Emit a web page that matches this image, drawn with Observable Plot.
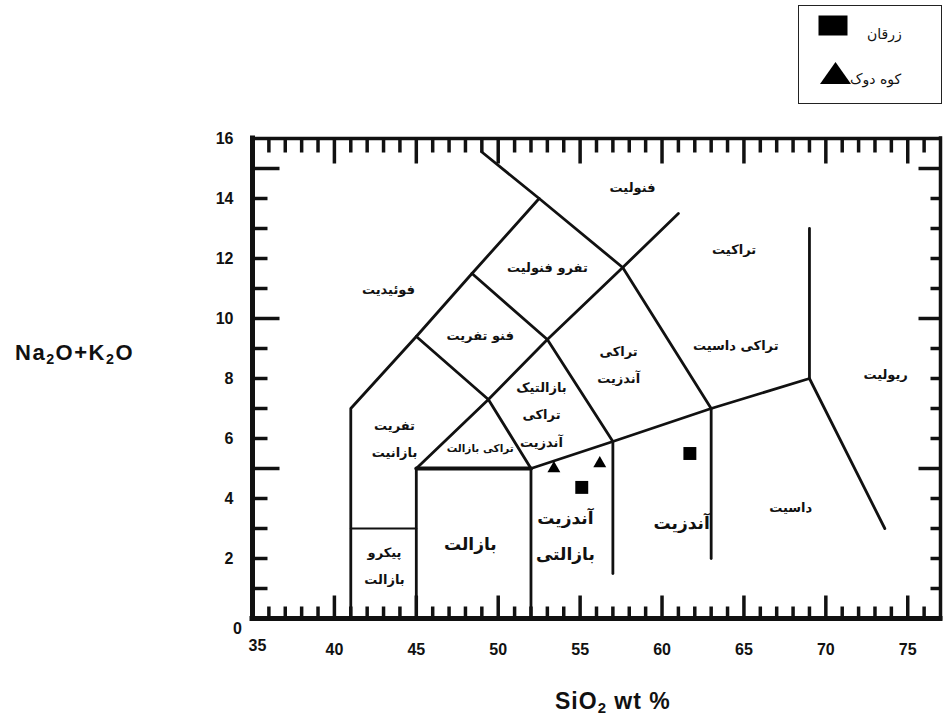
<!DOCTYPE html>
<html>
<head>
<meta charset="utf-8">
<script src="https://cdn.jsdelivr.net/npm/d3@7"></script>
<script src="https://cdn.jsdelivr.net/npm/@observablehq/plot@0.6"></script>
<style>
  body { margin: 0; background: #ffffff; }
  #wrap { position: relative; width: 946px; height: 722px; overflow: hidden; background: #ffffff; }
  #chart { position: absolute; left: 0; top: 0; }
  .axtitle { position: absolute; font-family: "Liberation Sans", Arial, sans-serif; font-weight: bold; color: #111; line-height: 1; white-space: nowrap; }
  .axtitle sub { font-size: 0.65em; vertical-align: -0.3em; line-height: 0; }
  #ytitle { left: 15px; top: 342px; font-size: 22px; letter-spacing: 1.5px; }
  #xtitle { left: 555px; top: 690px; font-size: 23px; letter-spacing: 1px; }
  #legend { position: absolute; left: 798px; top: 5px; width: 144px; height: 99px; border: 1.5px solid #222; box-sizing: border-box; background: #fff; }
  #legend .item { position: absolute; }
  #legend .lbl { position: absolute; font-family: "DejaVu Sans", sans-serif; font-size: 14px; color: #111; white-space: nowrap; line-height: 1; direction: rtl; }
</style>
</head>
<body>
<div id="wrap">
  <div id="chart"></div>
  <div id="ytitle" class="axtitle">Na<sub>2</sub>O+K<sub>2</sub>O</div>
  <div id="xtitle" class="axtitle">SiO<sub>2</sub> wt %</div>
  <div id="legend"></div>
</div>
<script>
// ---------- data ----------
const xDomain = [35, 77];
const yDomain = [0, 16];
const xTickLabels = [35, 40, 45, 50, 55, 60, 65, 70, 75];
const yTickLabels = [0, 2, 4, 6, 8, 10, 12, 14, 16];

// TAS field boundaries: [SiO2, Na2O+K2O]
const foiditeEdge = [[41, 0], [41, 7], [45, 9.4], [48.4, 11.5], [52.5, 14]];
const phonoliteEdge = [[49, 15.55], [52.5, 14], [57.6, 11.7], [63, 7]];
const trachyteEdge = [[57.6, 11.7], [61, 13.5]];
const phonotephriteBase = [[45, 9.4], [49.4, 7.3], [52, 5]];
const tephriphonoliteBase = [[48.4, 11.5], [53, 9.3], [57.6, 11.7]];
const trachyandesiteEdge = [[53, 9.3], [57, 5.9]];
const trachybasaltEdge = [[53, 9.3], [49.4, 7.3], [45, 5], [45, 0]];
const basaltTop = [[45, 5], [52, 5]];
const basaltRight = [[52, 5], [52, 0]];
const subalkalineTop = [[52, 5], [57, 5.9], [63, 7], [69, 8], [73.6, 3]];
const andesiteLeft = [[57, 5.9], [57, 1.5]];
const daciteLeft = [[63, 7], [63, 2]];
const rhyoliteEdge = [[69, 8], [69, 13]];
const picrobasaltTop = [[41, 3], [45, 3]];

const mainBoundaries = [foiditeEdge, phonoliteEdge, trachyteEdge, phonotephriteBase,
  tephriphonoliteBase, trachyandesiteEdge, trachybasaltEdge, basaltRight,
  subalkalineTop, andesiteLeft, daciteLeft, rhyoliteEdge];

// rock-field names
const rockNames = ["فوئیدیت", "فنولیت", "تفرو فنولیت", "فنو تفریت", "تراکیت",
  "تراکی\nآندزیت", "تراکی داسیت", "ریولیت", "بازالتیک\nتراکی\nآندزیت",
  "تفریت\nبازانیت", "داسیت", "پیکرو\nبازالت"];
const rockSiO2 = [43.3, 58.2, 53.0, 48.9, 64.4, 57.35, 64.5, 73.65, 52.64, 43.67, 67.85, 43.06];
const rockAlk = [11.1, 14.5, 11.83, 9.57, 12.43, 8.6, 9.23, 8.27, 6.93, 6.13, 3.83, 1.9];

const bigRockNames = ["آندزیت\nبازالتی", "آندزیت", "بازالت"];
const bigRockSiO2 = [54.1, 61.2, 48.3];
const bigRockAlk = [2.93, 3.37, 2.67];

const smallRockNames = ["تراکی بازالت"];
const smallRockSiO2 = [48.9];
const smallRockAlk = [5.67];

// samples
const seriesNames = ["زرقان", "کوه دوک"];
const zarghanSiO2 = [61.7, 55.1];
const zarghanAlk = [5.5, 4.37];
const kuhDukSiO2 = [53.4, 56.2];
const kuhDukAlk = [5.0, 5.17];

// ---------- build ----------
const toRows = (lines) => lines.flatMap((pts, id) => pts.map(([x, y]) => ({id, x, y})));
const boundaryRows = toRows(mainBoundaries);
const rows = (names, xs, ys) => names.map((t, i) => ({t, x: xs[i], y: ys[i]}));
const zarghan = zarghanSiO2.map((x, i) => ({x, y: zarghanAlk[i]}));
const kuhDuk = kuhDukSiO2.map((x, i) => ({x, y: kuhDukAlk[i]}));

const xMinor = d3.range(xDomain[0] + 1, xDomain[1]).filter(v => v % 5 !== 0);
const xMajor = d3.range(xDomain[0] + 1, xDomain[1]).filter(v => v % 5 === 0);
const yMinor = d3.range(yDomain[0] + 1, yDomain[1]).filter(v => v % 5 !== 0);
const yMajor = d3.range(yDomain[0] + 1, yDomain[1]).filter(v => v % 5 === 0);

const tickShape = {draw(ctx, l) { ctx.moveTo(0, 0); ctx.lineTo(0, -l); }};
const tk = {shape: tickShape, anchor: "start", stroke: "#111", strokeWidth: 3.5, strokeLinecap: "butt"};
const numFont = {fontFamily: "Liberation Sans, Arial, sans-serif", fontWeight: "bold", fill: "#111"};
const faFont = {fontFamily: "DejaVu Sans, sans-serif", fontWeight: "bold", fill: "#111"};

const chart = Plot.plot({
  width: 946,
  height: 722,
  marginLeft: 252,
  marginRight: 6,
  marginTop: 138,
  marginBottom: 104,
  x: {domain: xDomain, axis: null},
  y: {domain: yDomain, axis: null},
  style: {background: "transparent", overflow: "visible"},
  marks: [
    // field boundaries
    Plot.line(boundaryRows, {x: "x", y: "y", z: "id", stroke: "#111", strokeWidth: 2.8, strokeLinejoin: "round"}),
    Plot.line(basaltTop.map(([x, y]) => ({x, y})), {x: "x", y: "y", stroke: "#111", strokeWidth: 4}),
    Plot.line(picrobasaltTop.map(([x, y]) => ({x, y})), {x: "x", y: "y", stroke: "#111", strokeWidth: 2}),
    // frame
    Plot.ruleX([xDomain[0]], {stroke: "#111", strokeWidth: 5, strokeLinecap: "square"}),
    Plot.ruleY([yDomain[0]], {stroke: "#111", strokeWidth: 5, strokeLinecap: "square"}),
    Plot.ruleY([yDomain[1]], {stroke: "#111", strokeWidth: 3.5, strokeLinecap: "square"}),
    Plot.ruleX([xDomain[1]], {stroke: "#111", strokeWidth: 3.5, strokeLinecap: "square"}),
    // inward ticks
    Plot.vector(xMinor, {x: d => d, y: yDomain[0], rotate: 0, length: 12, ...tk}),
    Plot.vector(xMajor, {x: d => d, y: yDomain[0], rotate: 0, length: 23, ...tk}),
    Plot.vector(xMinor, {x: d => d, y: yDomain[1], rotate: 180, length: 14, ...tk}),
    Plot.vector(xMajor, {x: d => d, y: yDomain[1], rotate: 180, length: 25, ...tk}),
    Plot.vector(yMinor, {x: xDomain[0], y: d => d, rotate: 90, length: 15, ...tk}),
    Plot.vector(yMajor, {x: xDomain[0], y: d => d, rotate: 90, length: 27, ...tk}),
    Plot.vector(yMinor, {x: xDomain[1], y: d => d, rotate: -90, length: 10, ...tk}),
    Plot.vector(yMajor, {x: xDomain[1], y: d => d, rotate: -90, length: 22, ...tk}),
    // tick labels
    Plot.text(yTickLabels.slice(1), {x: xDomain[0], y: d => d, text: d => String(d), dx: -19, textAnchor: "end", fontSize: 16, ...numFont}),
    Plot.text(yTickLabels.slice(0, 1), {x: xDomain[0], y: d => d, text: d => String(d), dx: -15, dy: 10, textAnchor: "middle", fontSize: 16, ...numFont}),
    Plot.text(xTickLabels.slice(1), {x: d => d, y: yDomain[0], text: d => String(d), dy: 31, fontSize: 16, ...numFont}),
    Plot.text(xTickLabels.slice(0, 1), {x: d => d, y: yDomain[0], text: d => String(d), dx: 5, dy: 27, fontSize: 16, ...numFont}),
    // field names
    Plot.text(rows(rockNames, rockSiO2, rockAlk), {x: "x", y: "y", text: "t", fontSize: 13, lineHeight: 2.1, ...faFont}),
    Plot.text(rows(bigRockNames, bigRockSiO2, bigRockAlk), {x: "x", y: "y", text: "t", fontSize: 17, lineHeight: 2.1, ...faFont}),
    Plot.text(rows(smallRockNames, smallRockSiO2, smallRockAlk), {x: "x", y: "y", text: "t", fontSize: 10.5, ...faFont}),
    // samples
    Plot.dot(zarghan, {x: "x", y: "y", symbol: "square", r: 7.3, fill: "#000"}),
    Plot.dot(kuhDuk, {x: "x", y: "y", symbol: "triangle", r: 4.8, fill: "#000"})
  ]
});
document.getElementById("chart").appendChild(chart);

// legend
const legend = document.getElementById("legend");
const legendSymbols = [
  '<svg width="30" height="21"><rect x="0.5" y="0.5" width="29" height="20" fill="#000"/></svg>',
  '<svg width="31" height="22"><polygon points="15.5,0 31,22 0,22" fill="#000"/></svg>'
];
const legendPos = [{sx: 19, sy: 9, lx: 68, ly: 21}, {sx: 21, sy: 56, lx: 51, ly: 66}];
seriesNames.forEach((name, i) => {
  const s = document.createElement("div");
  s.className = "item";
  s.style.left = legendPos[i].sx + "px";
  s.style.top = legendPos[i].sy + "px";
  s.innerHTML = legendSymbols[i];
  legend.appendChild(s);
  const l = document.createElement("div");
  l.className = "lbl";
  l.style.left = legendPos[i].lx + "px";
  l.style.top = legendPos[i].ly + "px";
  l.textContent = name;
  legend.appendChild(l);
});
</script>
</body>
</html>
